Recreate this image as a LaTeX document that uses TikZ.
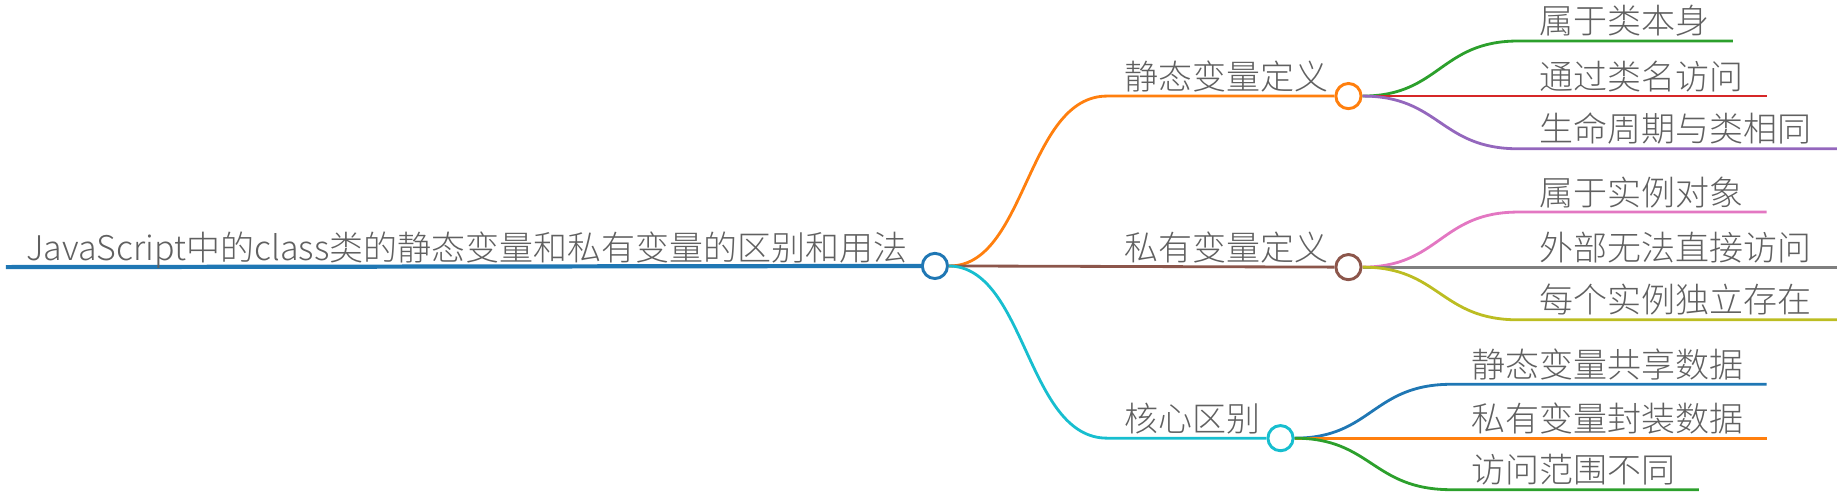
\documentclass[tikz,border=0pt]{standalone}
\usepackage{fontspec}
\setmainfont{Noto Sans CJK SC}[UprightFont={* Light}]
\definecolor{cblue}{HTML}{1F77B4}
\definecolor{corange}{HTML}{FF7F0E}
\definecolor{cgreen}{HTML}{2CA02C}
\definecolor{cred}{HTML}{D62728}
\definecolor{cpurple}{HTML}{9467BD}
\definecolor{cbrown}{HTML}{8C564B}
\definecolor{cpink}{HTML}{E377C2}
\definecolor{cgray}{HTML}{7F7F7F}
\definecolor{colive}{HTML}{BCBD22}
\definecolor{ccyan}{HTML}{17BECF}
\definecolor{txtgray}{HTML}{606060}
\tikzset{
  dot/.style={circle, draw=#1, fill=white, line width=2.5pt, minimum size=21.5pt, inner sep=0pt},
  link/.style={draw=#1, line width=2.4pt},
  lbl/.style={anchor=base west, inner sep=0pt, text=txtgray, font=\fontsize{29}{29}\selectfont},
}
\begin{document}
\begin{tikzpicture}[x=1pt,y=-1pt]
\useasboundingbox (0,0) rectangle (1568,425);
% root
\coordinate (r0) at (5,228);
\node[dot=cblue] (c0) at (798,227) {};
\draw[link=cblue, line width=3.6pt] (r0) -- (c0.west);
\node[lbl] (t0) at (22,222) {JavaScript中的class类的静态变量和私有变量的区别和用法};
% level 1
\coordinate (a1) at (945,82);
\node[dot=corange] (c1) at (1151,82) {};
\draw[link=corange] (c0.east) .. controls (876,228) and (876,82) .. (a1) -- (c1.west);
\node[lbl] (t1) at (960,76) {静态变量定义};
\node[dot=cbrown] (c2) at (1151,228) {};
\draw[link=cbrown] (c0.east) -- (c2.west);
\node[lbl] (t2) at (960,222) {私有变量定义};
\coordinate (a3) at (945,374);
\node[dot=ccyan] (c3) at (1093,374) {};
\draw[link=ccyan] (c0.east) .. controls (876,228) and (876,374) .. (a3) -- (c3.west);
\node[lbl] (t3) at (960,368) {核心区别};
% level 2 under c1
\coordinate (b11) at (1296,35); \coordinate (e11) at (1479,35);
\draw[link=cgreen] (c1.east) .. controls (1229,82) and (1229,35) .. (b11) -- (e11);
\node[lbl] (t11) at (1314,29) {属于类本身};
\coordinate (e12) at (1508,82);
\draw[link=cred] (c1.east) -- (e12);
\node[lbl] (t12) at (1314,76) {通过类名访问};
\coordinate (b13) at (1296,127); \coordinate (e13) at (1568,127);
\draw[link=cpurple] (c1.east) .. controls (1229,82) and (1229,127) .. (b13) -- (e13);
\node[lbl] (t13) at (1314,121) {生命周期与类相同};
% level 2 under c2
\coordinate (b21) at (1296,181); \coordinate (e21) at (1508,181);
\draw[link=cpink] (c2.east) .. controls (1229,228) and (1229,181) .. (b21) -- (e21);
\node[lbl] (t21) at (1314,175) {属于实例对象};
\coordinate (e22) at (1568,228);
\draw[link=cgray] (c2.east) -- (e22);
\node[lbl] (t22) at (1314,222) {外部无法直接访问};
\coordinate (b23) at (1296,273); \coordinate (e23) at (1568,273);
\draw[link=colive] (c2.east) .. controls (1229,228) and (1229,273) .. (b23) -- (e23);
\node[lbl] (t23) at (1314,267) {每个实例独立存在};
% level 2 under c3
\coordinate (b31) at (1239,328); \coordinate (e31) at (1508,328);
\draw[link=cblue] (c3.east) .. controls (1171,374) and (1171,328) .. (b31) -- (e31);
\node[lbl] (t31) at (1256,322) {静态变量共享数据};
\coordinate (e32) at (1508,374);
\draw[link=corange] (c3.east) -- (e32);
\node[lbl] (t32) at (1256,368) {私有变量封装数据};
\coordinate (b33) at (1239,418); \coordinate (e33) at (1450,418);
\draw[link=cgreen] (c3.east) .. controls (1171,374) and (1171,418) .. (b33) -- (e33);
\node[lbl] (t33) at (1256,412) {访问范围不同};
\end{tikzpicture}
\end{document}
